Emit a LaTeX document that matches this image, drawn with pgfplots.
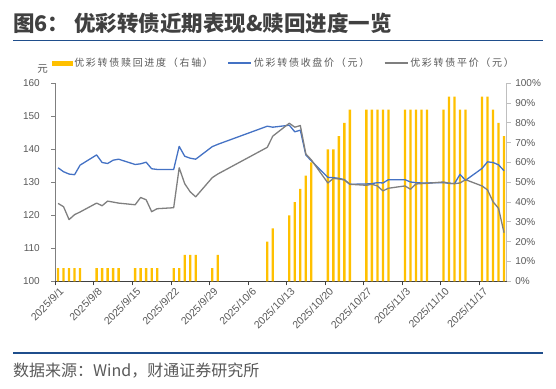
\documentclass[border=0pt]{standalone}
\usepackage{fontspec}
\setmainfont{Liberation Sans}
\newfontfamily\cjk{Noto Sans CJK SC}
\usepackage{pgfplots}
\usepackage{pgfplotstable}
\pgfplotsset{compat=1.18}
\definecolor{barc}{HTML}{FFC000}
\definecolor{bluec}{HTML}{4472C4}
\definecolor{grayc}{HTML}{7F7F7F}
\definecolor{txt}{HTML}{595959}
\definecolor{ttl}{HTML}{404040}
\definecolor{rulec}{HTML}{1F4E8C}
\definecolor{axl}{HTML}{404040}
\definecolor{axr}{HTML}{BFBFBF}
\def\lsloop#1{\ifx#1\relax\else#1\kern1.7pt\expandafter\lsloop\fi}
\newcommand\ls[1]{\lsloop#1\relax}

\pgfplotstableread{
x bar blue gray
0.5 6.67 134.4 123.6
1.5 6.67 133.2 122.6
2.5 6.67 132.5 118.7
3.5 6.67 132.3 120.2
4.5 6.67 135.2 121.0
7.5 6.67 138.3 123.7
8.5 6.67 136.0 122.9
9.5 6.67 135.7 124.3
10.5 6.67 136.7 124.0
11.5 6.67 137.0 123.7
14.5 6.67 135.4 123.2
15.5 6.67 135.6 125.4
16.5 6.67 136.1 124.7
17.5 6.67 134.1 121.1
18.5 6.67 133.9 122.0
21.5 6.67 133.9 122.3
22.5 6.67 140.9 134.4
23.5 13.33 137.9 129.6
24.5 13.33 137.3 127.1
25.5 13.33 137.0 125.6
28.5 6.67 140.8 131.4
29.5 13.33 141.5 132.5
38.5 20.00 147.0 140.6
39.5 26.67 146.7 144.0
42.5 33.33 147.3 147.9
43.5 40.00 145.3 146.7
44.5 46.67 145.8 147.2
45.5 53.33 138.3 138.6
46.5 60.00 136.5 136.8
49.5 66.67 131.5 129.8
50.5 66.67 131.4 131.2
51.5 73.33 131.2 131.0
52.5 80.00 130.8 130.7
53.5 86.67 129.4 129.4
56.5 86.67 129.5 129.1
57.5 86.67 129.6 129.4
58.5 86.67 129.9 128.9
59.5 86.67 129.8 127.4
60.5 86.67 130.8 128.2
63.5 86.67 130.8 128.9
64.5 86.67 130.1 127.9
65.5 86.67 129.9 129.5
66.5 86.67 129.8 129.6
67.5 86.67 129.8 129.7
70.5 86.67 129.9 130.1
71.5 93.33 129.7 129.7
72.5 93.33 129.6 129.6
73.5 86.67 132.4 129.8
74.5 86.67 130.6 130.8
77.5 93.33 134.2 128.9
78.5 93.33 136.2 127.7
79.5 86.67 136.0 124.1
80.5 80.00 135.3 122.1
81.5 73.33 133.5 114.7
}\data

\begin{document}
\begin{tikzpicture}
\useasboundingbox (0,0) rectangle (556pt,388pt);
% title
\node[anchor=west, inner sep=0pt, text=ttl] at (13pt,365pt) {\cjk\bfseries\fontsize{21.5}{24}\selectfont 图6： 优彩转债近期表现\&赎回进度一览};
\draw[rulec, line width=1.2pt] (13pt,347.5pt) -- (543pt,347.5pt);
\draw[rulec, line width=1.2pt] (13pt,35pt) -- (543pt,35pt);
\node[anchor=west, inner sep=0pt, text=txt] at (13pt,17pt) {\cjk\fontsize{16}{18}\selectfont 数据来源：Wind，财通证券研究所};
\node[inner sep=0pt, text=txt] at (42.5pt,319pt) {\cjk\fontsize{10.5}{12}\selectfont 元};

\begin{axis}[
  scale only axis, width=451.5pt, height=198pt,
  at={(55.3pt,106.7pt)}, anchor=south west,
  xmin=0, xmax=82, ymin=0, ymax=100,
  axis x line*=bottom, axis y line*=right,
  axis line style={-},
  x axis line style={draw=axl, line width=0.8pt},
  y axis line style={draw=axr, line width=0.8pt},
  tick align=outside, major tick length=4pt,
  xtick={0,7,...,77},
  xticklabels={2025/9/1,2025/9/8,2025/9/15,2025/9/22,2025/9/29,2025/10/6,2025/10/13,2025/10/20,2025/10/27,2025/11/3,2025/11/10,2025/11/17},
  xtick style={draw=axl, line width=0.8pt},
  xticklabel style={rotate=45, anchor=north east, inner sep=0.5pt, yshift=-3pt, xshift=2pt, font=\fontsize{10.5}{12}\selectfont, text=txt},
  ytick={0,10,...,100},
  ytick style={draw=axr, line width=0.8pt},
  /pgf/number format/assume math mode=true,
  yticklabel={\pgfmathprintnumber{\tick}\%},
  yticklabel style={font=\fontsize{10}{12}\selectfont, text=txt, xshift=1pt},
]
\addplot[ybar, bar width=0.42, fill=barc, draw=none] table[x=x,y=bar]{\data};
\end{axis}

\begin{axis}[
  scale only axis, width=451.5pt, height=198pt,
  at={(55.3pt,106.7pt)}, anchor=south west,
  xmin=0, xmax=82, ymin=100, ymax=160,
  axis x line=none, axis y line*=left,
  axis line style={-},
  y axis line style={draw=grayc, line width=0.8pt},
  tick align=outside, major tick length=4pt,
  ytick={100,110,...,160},
  ytick style={draw=grayc, line width=0.8pt},
  /pgf/number format/assume math mode=true,
  yticklabel={\pgfmathprintnumber{\tick}},
  yticklabel style={font=\fontsize{10}{12}\selectfont, text=txt, xshift=-8pt},
  legend columns=3,
  legend style={at={(-0.008,1.1025)}, anchor=west, draw=none, fill=none, inner sep=0pt,
    font=\cjk\fontsize{10}{12}\selectfont, text=txt,
    /tikz/every even column/.append style={column sep=11pt},
    /tikz/every odd column/.append style={column sep=0pt}},
  legend cell align=left,
]
\addlegendimage{legend image code/.code={\fill[barc] (0pt,-1.75pt) rectangle (20pt,1.75pt);}}
\addlegendentry{\ls{优彩转债赎回进度（右轴）}}
\addplot[bluec, line width=1.3pt, line join=round, legend image code/.code={\draw[bluec, line width=1.3pt] (0pt,0pt) -- (23pt,0pt);}] table[x=x,y=blue]{\data};
\addlegendentry{\ls{优彩转债收盘价（元）}}
\addplot[grayc, line width=1.3pt, line join=round, legend image code/.code={\draw[grayc, line width=1.3pt] (0pt,0pt) -- (23pt,0pt);}] table[x=x,y=gray]{\data};
\addlegendentry{\ls{优彩转债平价（元）}}
\end{axis}
\end{tikzpicture}
\end{document}
